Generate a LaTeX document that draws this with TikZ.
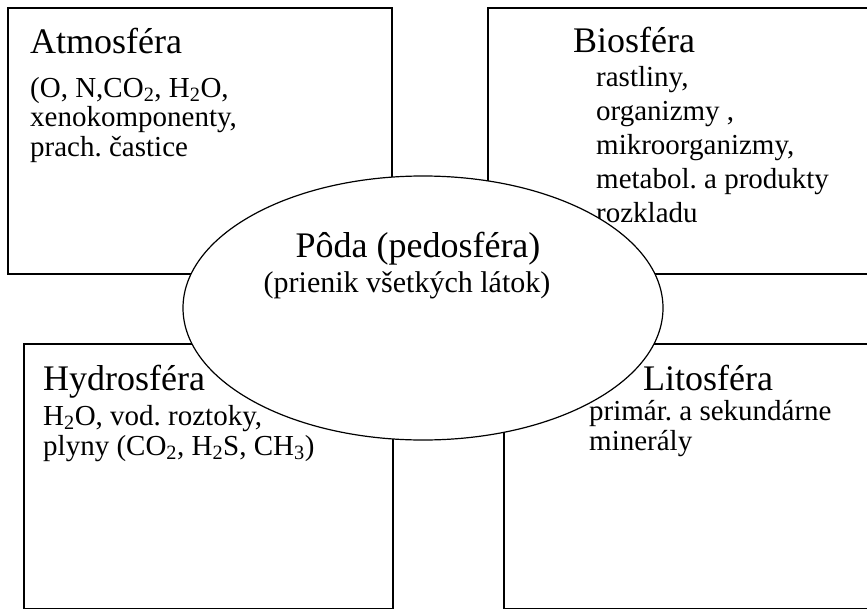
\documentclass[tikz,border=0pt]{standalone}
\usepackage{fontspec}
\setmainfont{Liberation Serif}
\frenchspacing
\usetikzlibrary{shapes.geometric}
\tikzset{
  spherebox/.style={draw,line width=1.6pt,rectangle,inner sep=0pt,anchor=north west},
  spheretitle/.style={anchor=base west,inner sep=0pt,font=\fontsize{36}{36}\selectfont},
  spheretext/.style={anchor=base west,inner sep=0pt,font=\fontsize{29}{29}\selectfont},
}
\begin{document}
\begin{tikzpicture}[x=1pt,y=-1pt]
  \useasboundingbox (0,0) rectangle (867,608);
  % the four spheres
  \node[spherebox,minimum width=384pt,minimum height=266pt] (atmo) at (7,7) {};
  \node[spherebox,minimum width=390pt,minimum height=266pt] (bio) at (487,7) {};
  \node[spherebox,minimum width=369pt,minimum height=265pt] (hydro) at (23,343) {};
  \node[spherebox,minimum width=374pt,minimum height=265pt] (lito) at (503,343) {};
  \node[spheretitle] (atmotitle) at (30,53) {Atmosféra};
  \foreach \txt [count=\i] in {{(O, N,CO\textsubscript{2}, H\textsubscript{2}O,}, {xenokomponenty,}, {prach. častice}}
    \node[spheretext] (atmo\i) at (30,97+29.5*\i-29.5) {\txt};
  \node[spheretitle] (biotitle) at (573,52) {Biosféra};
  \foreach \txt [count=\i] in {{rastliny,}, {organizmy ,}, {mikroorganizmy,}, {metabol. a produkty}, {rozkladu}}
    \node[spheretext] (bio\i) at (596,86.5+33.9*\i-33.9) {\txt};
  \node[spheretitle] (hydrotitle) at (43,390) {Hydrosféra};
  \foreach \txt [count=\i] in {{H\textsubscript{2}O, vod. roztoky,}, {plyny (CO\textsubscript{2}, H\textsubscript{2}S, CH\textsubscript{3})}}
    \node[spheretext] (hydro\i) at (43,425+30*\i-30) {\txt};
  \node[spheretitle] (litotitle) at (643,390) {Litosféra};
  \foreach \txt [count=\i] in {{primár. a sekundárne}, {minerály}}
    \node[spheretext] (lito\i) at (589,420+30*\i-30) {\txt};
  % soil in the middle
  \node[draw,ellipse,fill=white,line width=1.2pt,inner sep=0pt,minimum width=480pt,minimum height=264pt] (poda) at (423,308) {};
  \node[anchor=base,inner sep=0pt,font=\fontsize{36}{36}\selectfont] (podatitle) at (418,257) {Pôda (pedosféra)};
  \node[anchor=base,inner sep=0pt,font=\fontsize{30}{30}\selectfont] (podatext) at (407,292) {(prienik všetkých látok)};
\end{tikzpicture}
\end{document}
